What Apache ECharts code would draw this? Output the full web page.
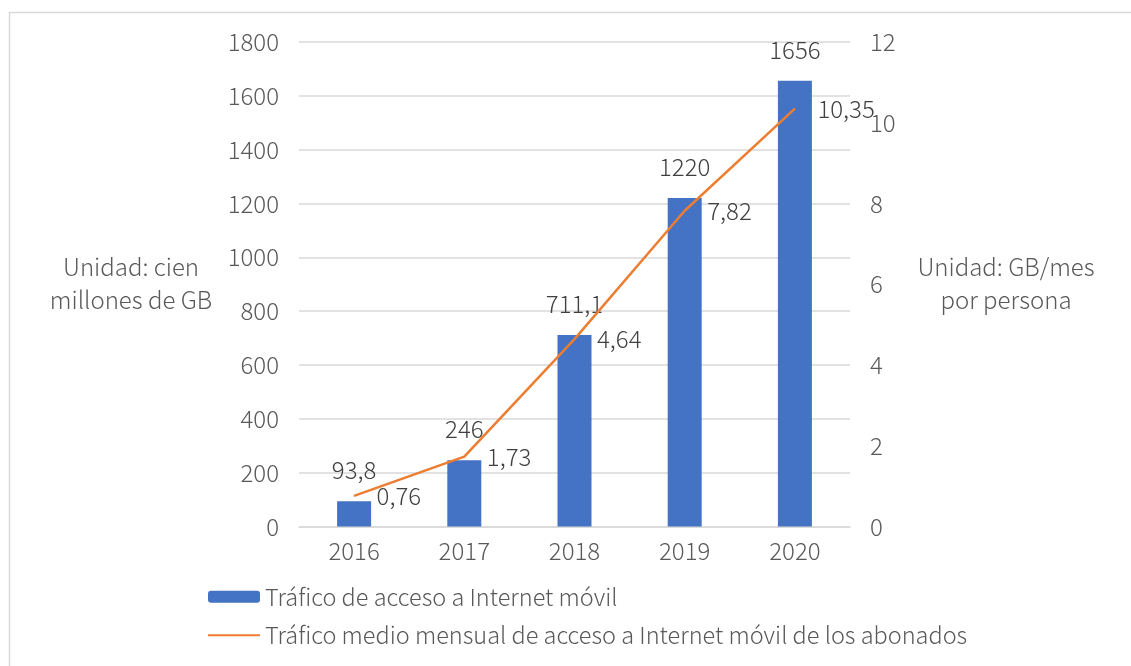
<!DOCTYPE html>
<html>
<head>
<meta charset="utf-8">
<script src="https://cdn.jsdelivr.net/npm/echarts@6/dist/echarts.min.js"></script>
<style>
  html, body { margin: 0; padding: 0; background: #ffffff; }
  #chart { width: 1131px; height: 666px; }
</style>
</head>
<body>
<div id="chart"></div>
<script>
// Years on the category axis
const years = ['2016', '2017', '2018', '2019', '2020'];
// Mobile internet access traffic (hundred million GB)
const traffic = [93.8, 246, 711.1, 1220, 1656];
// Average monthly traffic per subscriber (GB/month per person)
const perUser = [0.76, 1.73, 4.64, 7.82, 10.35];
// Axis ranges
const leftAxis = { min: 0, max: 1800, interval: 200 };
const rightAxis = { min: 0, max: 12, interval: 2 };
// Series names shown in the legend
const seriesNames = [
  'Tráfico de acceso a Internet móvil',
  'Tráfico medio mensual de acceso a Internet móvil de los abonados'
];

const FONT = '"Noto Sans CJK SC", "Noto Sans", sans-serif';
const WEIGHT = 300;
const AXIS_GRAY = '#595959';
const LABEL_GRAY = '#404040';
const GRID_GRAY = '#d9d9d9';

// Decimal comma for the value labels
const fmt = v => String(v).replace('.', ',');

const chart = echarts.init(document.getElementById('chart'), null, { renderer: 'canvas' });

const tickLabel = {
  fontFamily: FONT, fontWeight: WEIGHT, fontSize: 24, color: AXIS_GRAY,
  formatter: v => String(v)
};

chart.setOption({
  backgroundColor: '#ffffff',
  animation: false,
  textStyle: { fontFamily: FONT, fontWeight: WEIGHT },
  grid: {
    left: 299, right: 281, top: 42, bottom: 139.5,
    outerBoundsMode: 'none'
  },
  legend: {
    orient: 'vertical',
    left: 207,
    top: 585,
    padding: 0,
    itemWidth: 52,
    itemHeight: 12,
    itemGap: 15,
    textStyle: { fontFamily: FONT, fontWeight: WEIGHT, fontSize: 23.5, color: AXIS_GRAY },
    data: [
      { name: seriesNames[0] },
      { name: seriesNames[1], itemStyle: { opacity: 0 } }
    ]
  },
  xAxis: {
    type: 'category',
    data: years,
    axisLine: { show: true, lineStyle: { color: GRID_GRAY, width: 1.5 } },
    axisTick: { show: false },
    axisLabel: Object.assign({}, tickLabel, { margin: 12 })
  },
  yAxis: [
    {
      type: 'value',
      min: leftAxis.min, max: leftAxis.max, interval: leftAxis.interval,
      axisLine: { show: false },
      axisTick: { show: false },
      splitLine: { show: true, lineStyle: { color: GRID_GRAY, width: 1.5 } },
      axisLabel: Object.assign({}, tickLabel, { margin: 20 })
    },
    {
      type: 'value',
      min: rightAxis.min, max: rightAxis.max, interval: rightAxis.interval,
      axisLine: { show: false },
      axisTick: { show: false },
      splitLine: { show: false },
      axisLabel: Object.assign({}, tickLabel, { margin: 20 })
    }
  ],
  series: [
    {
      name: seriesNames[0],
      type: 'bar',
      data: traffic,
      barWidth: 34,
      yAxisIndex: 0,
      itemStyle: { color: '#4472c4' },
      label: {
        show: true,
        position: 'top',
        distance: 19,
        fontFamily: FONT,
        fontWeight: WEIGHT,
        fontSize: 24,
        color: LABEL_GRAY,
        formatter: p => fmt(p.value)
      },
      z: 2
    },
    {
      name: seriesNames[1],
      type: 'line',
      data: perUser,
      yAxisIndex: 1,
      symbol: 'circle',
      symbolSize: 1,
      itemStyle: { color: '#ed7d31' },
      lineStyle: { color: '#ed7d31', width: 2.5 },
      label: {
        show: true,
        position: 'right',
        distance: 22,
        fontFamily: FONT,
        fontWeight: WEIGHT,
        fontSize: 24,
        color: LABEL_GRAY,
        formatter: p => fmt(p.value)
      },
      z: 3
    }
  ],
  graphic: [
    {
      type: 'rect',
      shape: { x: 9.5, y: 12.5, width: 1200, height: 700 },
      style: { fill: 'none', stroke: GRID_GRAY, lineWidth: 1.5 },
      silent: true
    },
    {
      type: 'text',
      x: 131, y: 283,
      style: {
        text: 'Unidad: cien\nmillones de GB',
        font: WEIGHT + ' 24px ' + FONT,
        fill: AXIS_GRAY,
        align: 'center',
        verticalAlign: 'middle',
        lineHeight: 33
      }
    },
    {
      type: 'text',
      x: 1006, y: 283,
      style: {
        text: 'Unidad: GB/mes\npor persona',
        font: WEIGHT + ' 24px ' + FONT,
        fill: AXIS_GRAY,
        align: 'center',
        verticalAlign: 'middle',
        lineHeight: 33
      }
    }
  ]
});
</script>
</body>
</html>
